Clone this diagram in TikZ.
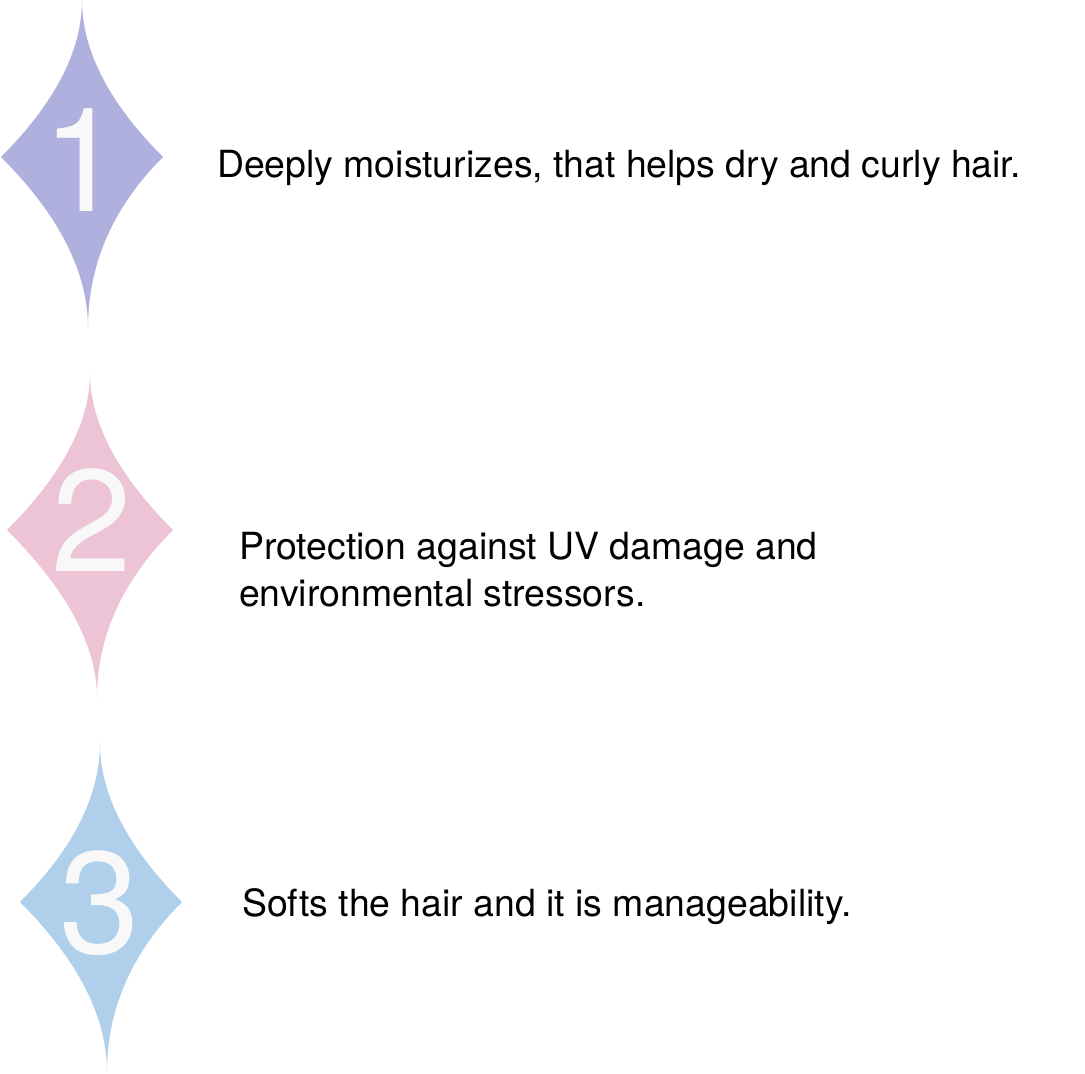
\documentclass[tikz,border=0pt]{standalone}
\usepackage{fontspec}
\setmainfont{TeX Gyre Heros}
\definecolor{starA}{RGB}{175,176,221}
\definecolor{starB}{RGB}{237,196,213}
\definecolor{starC}{RGB}{175,207,234}
\definecolor{digit}{RGB}{248,248,248}
\begin{document}
\begin{tikzpicture}[x=1pt,y=-1pt,
  desc/.style={anchor=base west,inner sep=0pt,text=black,font=\fontsize{37.4}{40}\selectfont},
  num/.style={anchor=base,inner sep=0pt,text=digit,font=\fontsize{145}{145}\selectfont}]
\useasboundingbox[fill=white] (0,0) rectangle (1085,1074);
% star 1
\fill[starA] (82,0) .. controls (82,50.7) and (109,103) .. (163,157)
  .. controls (113,207) and (88,264) .. (88,328)
  .. controls (88,272) and (59,215) .. (1,157)
  .. controls (55,103) and (82,50.7) .. (82,0) -- cycle;
% star 2
\fill[starB] (90,373) .. controls (90,422.3) and (117.7,474.7) .. (173,530)
  .. controls (122.3,580.7) and (97,636.7) .. (97,698)
  .. controls (97,646) and (67,590) .. (7,530)
  .. controls (62.3,474.7) and (90,422.3) .. (90,373) -- cycle;
% star 3
\fill[starC] (100,743) .. controls (100,794.3) and (127.3,847.3) .. (182,902)
  .. controls (132,952) and (107,1008.7) .. (107,1072)
  .. controls (107,1016.7) and (78,960) .. (20,902)
  .. controls (73.3,848.7) and (100,795.7) .. (100,743) -- cycle;
% digits
\node[num] (n1) at (82.4,211) {1};
\node[num] (n2) at (92,571) {2};
\node[num] (n3) at (100,953) {3};
% texts
\node[desc] (t1) at (217,177) {Deeply moisturizes, that helps dry and curly hair.};
\node[desc] (t2a) at (239,559) {Protection against UV damage and};
\node[desc] (t2b) at (239,606) {environmental stressors.};
\node[desc] (t3) at (242,916) {Softs the hair and it is manageability.};
\end{tikzpicture}
\end{document}
